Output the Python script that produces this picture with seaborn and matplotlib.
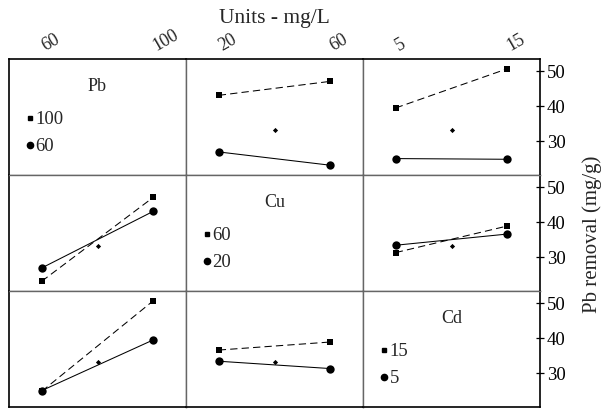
import numpy as np
import pandas as pd
import matplotlib
matplotlib.use("Agg")
import matplotlib.pyplot as plt
import matplotlib.transforms as mtransforms
import seaborn as sns

# ---------------- data ----------------
factors = ["Pb", "Cu", "Cd"]
pb_levels = [60, 100]
cu_levels = [20, 60]
cd_levels = [5, 15]
pb_labels = ["60", "100"]
cu_labels = ["20", "60"]
cd_labels = ["5", "15"]
center_value = 33.2

# cell means (rows = first factor levels, cols = second factor levels)
pb_cu = [[26.8, 23.0], [43.0, 47.0]]
pb_cd = [[24.9, 24.7], [39.4, 50.6]]
cu_cd = [[33.3, 36.5], [31.2, 38.8]]

y_ticks = [30, 40, 50]
title_text = "Units - mg/L"
y_label = "Pb removal (mg/g)"

# ---------------- helpers ----------------
levels = {"Pb": pb_levels, "Cu": cu_levels, "Cd": cd_levels}
labels = {"Pb": pb_labels, "Cu": cu_labels, "Cd": cd_labels}
tables = {("Pb", "Cu"): pb_cu, ("Pb", "Cd"): pb_cd, ("Cu", "Cd"): cu_cd}


def table(trace, xf):
    if (trace, xf) in tables:
        return np.array(tables[(trace, xf)])
    return np.array(tables[(xf, trace)]).T


sns.set_style("white")
plt.rcParams["font.family"] = ["Liberation Serif", "DejaVu Serif"]

fig, axes = plt.subplots(3, 3, figsize=(6.04, 4.10), dpi=100)
fig.subplots_adjust(left=9 / 604, right=540 / 604, top=1 - 60 / 410,
                    bottom=1 - 408 / 410, wspace=0, hspace=0)

ylim = (20.2, 53.4)
inner_col = "#666666"
label_shift = mtransforms.ScaledTranslation(5 / 100, 0, fig.dpi_scale_trans)

for i, trace in enumerate(factors):
    for j, xf in enumerate(factors):
        ax = axes[i, j]
        xl = levels[xf]
        d = xl[1] - xl[0]
        ax.set_xlim(xl[0] - 0.294 * d, xl[1] + 0.294 * d)
        ax.set_ylim(*ylim)
        ax.set_xticks([])
        ax.set_yticks([])
        ax.set_facecolor("white")
        if i == j:
            ax.text(0.5, 0.775, trace, transform=ax.transAxes, ha="center",
                    va="center", fontsize=13)
            tl = labels[trace]
            ax.plot([0.12], [0.49], marker="s", ms=3.2, color="black",
                    transform=ax.transAxes, ls="none")
            ax.text(0.15, 0.49, tl[1], transform=ax.transAxes, ha="left",
                    va="center", fontsize=13.5)
            ax.plot([0.12], [0.255], marker="o", ms=4.5, color="black",
                    transform=ax.transAxes, ls="none")
            ax.text(0.15, 0.255, tl[0], transform=ax.transAxes, ha="left",
                    va="center", fontsize=13.5)
        else:
            T = table(trace, xf)
            df_hi = pd.DataFrame({"x": xl, "y": T[1]})
            df_lo = pd.DataFrame({"x": xl, "y": T[0]})
            sns.lineplot(data=df_hi, x="x", y="y", ax=ax, color="black",
                         marker="s", markersize=4, markeredgewidth=0,
                         linestyle=(0, (7, 4)), linewidth=0.75, errorbar=None)
            sns.lineplot(data=df_lo, x="x", y="y", ax=ax, color="black",
                         marker="o", markersize=6, markeredgewidth=0,
                         linewidth=0.75, errorbar=None)
            cdf = pd.DataFrame({"x": [np.mean(xl)], "y": [center_value]})
            sns.scatterplot(data=cdf, x="x", y="y", ax=ax, color="black",
                            marker="D", s=7, linewidth=0)
        ax.set_xlabel("")
        ax.set_ylabel("")
        # spines
        for side, sp in ax.spines.items():
            sp.set_visible(True)
            sp.set_linewidth(1.0)
            outer = ((side == "top" and i == 0) or (side == "bottom" and i == 2)
                     or (side == "left" and j == 0) or (side == "right" and j == 2))
            sp.set_color("black" if outer else inner_col)
            if outer:
                sp.set_linewidth(1.2)

        if j == 2:
            ax.yaxis.tick_right()
            ax.set_yticks(y_ticks)
            ax.set_yticklabels([str(t) for t in y_ticks], fontsize=13.5)
            ax.tick_params(axis="y", direction="inout", length=6, width=0.9,
                           pad=2, colors="black", right=True, left=False)
        if i == 0:
            ax.xaxis.tick_top()
            ax.set_xticks(xl)
            ax.set_xticklabels(labels[xf], fontsize=13, rotation=30,
                               ha="left", va="bottom", rotation_mode="anchor")
            ax.tick_params(axis="x", length=0, pad=4, top=True, bottom=False)
            for lab in ax.get_xticklabels():
                lab.set_transform(lab.get_transform() + label_shift)

fig.text(274.5 / 604, 1 - 18 / 410, title_text, ha="center", va="center",
         fontsize=15.5)
fig.text(592 / 604, 1 - 234 / 410, y_label, ha="center", va="center",
         rotation=90, fontsize=15)

fig.savefig("out.png", dpi=100)
